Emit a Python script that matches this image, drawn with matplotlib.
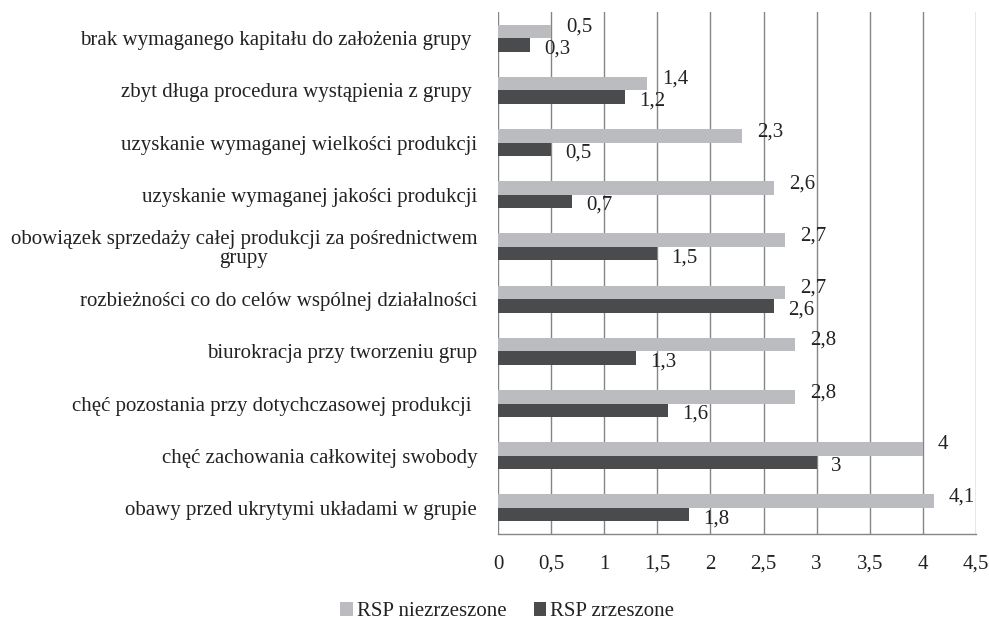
import matplotlib
matplotlib.use("Agg")
import matplotlib.pyplot as plt
import numpy as np

categories = [
    "brak wymaganego kapitału do założenia grupy ",
    "zbyt długa procedura wystąpienia z grupy ",
    "uzyskanie wymaganej wielkości produkcji",
    "uzyskanie wymaganej jakości produkcji",
    "obowiązek sprzedaży całej produkcji za pośrednictwem\ngrupy",
    "rozbieżności co do celów wspólnej działalności",
    "biurokracja przy tworzeniu grup",
    "chęć pozostania przy dotychczasowej produkcji ",
    "chęć zachowania całkowitej swobody",
    "obawy przed ukrytymi układami w grupie",
]
niezrzeszone = [0.5, 1.4, 2.3, 2.6, 2.7, 2.7, 2.8, 2.8, 4.0, 4.1]
zrzeszone = [0.3, 1.2, 0.5, 0.7, 1.5, 2.6, 1.3, 1.6, 3.0, 1.8]
series_names = ["RSP niezrzeszone", "RSP zrzeszone"]
xticks = [0, 0.5, 1, 1.5, 2, 2.5, 3, 3.5, 4, 4.5]

def fmt(v):
    s = f"{v:g}"
    return s.replace(".", ",")

plt.rcParams['font.family'] = ['Liberation Serif', 'DejaVu Serif']
FS = 15
TXT = "#222222"

fig = plt.figure(figsize=(9.89, 6.2), dpi=100)
ax = fig.add_axes([0.5035, 0.1387, 0.4834, 0.8419])

n = len(categories)
ypos = np.arange(n)[::-1]  # first category at top
h = 0.26
c_light = "#bbbcbf"
c_dark = "#4a4b4d"

ax.barh(ypos + h / 2, niezrzeszone, height=h, color=c_light, label=series_names[0], zorder=3)
ax.barh(ypos - h / 2, zrzeszone, height=h, color=c_dark, label=series_names[1], zorder=3)

for y, v in zip(ypos, niezrzeszone):
    ax.annotate(fmt(v), (v, y + h / 2), xytext=(15, 4), textcoords="offset pixels",
                ha="left", va="center", fontsize=FS, color=TXT, zorder=4)
for y, v in zip(ypos, zrzeszone):
    ax.annotate(fmt(v), (v, y - h / 2), xytext=(14, -4), textcoords="offset pixels",
                ha="left", va="center", fontsize=FS, color=TXT, zorder=4)

ax.set_xlim(0, 4.5)
ax.set_ylim(-0.5, 9.5)
ax.set_xticks(xticks)
ax.set_xticklabels([fmt(t) for t in xticks], fontsize=FS, color=TXT)
ax.set_yticks(ypos)
ax.set_yticklabels(categories, fontsize=FS, color=TXT, multialignment="center",
                   linespacing=1.0)
ax.tick_params(axis="both", length=0)
ax.tick_params(axis="x", pad=15)
ax.tick_params(axis="y", pad=15)

ax.grid(axis="x", color="#858585", linewidth=1.0, zorder=0)
for s in ["top", "right", "left"]:
    ax.spines[s].set_visible(False)
ax.spines["bottom"].set_color("#858585")
ax.spines["bottom"].set_linewidth(1.0)

handles, labels = ax.get_legend_handles_labels()
leg = fig.legend(handles, labels, loc="center", bbox_to_anchor=(0.513, 0.013), ncol=2,
                 frameon=False, fontsize=FS, handlelength=0.6, handleheight=0.6,
                 handletextpad=0.2, columnspacing=1.3)
for t in leg.get_texts():
    t.set_color(TXT)

fig.savefig("out.png", dpi=100)
